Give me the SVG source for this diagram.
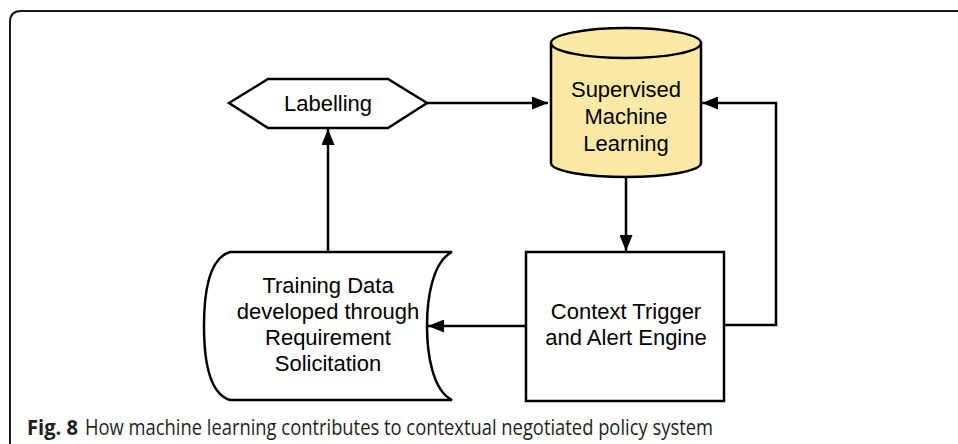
<svg xmlns="http://www.w3.org/2000/svg" width="958" height="444" viewBox="0 0 958 444">
<style>
.shape{fill:#fff;stroke:#000;stroke-width:2.5}
.lbl{font-family:"Liberation Sans",Arial,sans-serif;font-size:22px;fill:#000;text-anchor:middle}
.conn{fill:none;stroke:#000;stroke-width:2.5}
.cap{font-family:"Open Sans","Liberation Sans",sans-serif;font-size:21px;fill:#231f20}
</style>
<defs>
<marker id="arr" viewBox="0 0 16 13" refX="16" refY="6.5" markerWidth="16" markerHeight="13" markerUnits="userSpaceOnUse" orient="auto">
<path d="M0,0 L16,6.5 L0,13 Z" fill="#000"/>
</marker>
</defs>
<rect width="958" height="444" fill="#fff"/>
<path d="M10,444 L10,22 Q10,11 21,11 L958,11" fill="none" stroke="#1a1a1a" stroke-width="2"/>

<g id="labelling">
<path class="shape" d="M229,103 L268,79 L388,79 L427,103 L388,128 L268,128 Z"/>
<text class="lbl" x="328" y="111">Labelling</text>
</g>

<g id="sml">
<path d="M551,43 L551,163 A75,14 0 0 0 701,163 L701,43" fill="#fde9a6" stroke="#000" stroke-width="2.5"/>
<ellipse cx="626" cy="43" rx="75" ry="15" fill="#fde9a6" stroke="#000" stroke-width="2.5"/>
<text class="lbl" x="626" y="97">Supervised</text>
<text class="lbl" x="626" y="124">Machine</text>
<text class="lbl" x="626" y="151">Learning</text>
</g>

<g id="context">
<rect class="shape" x="526" y="252" width="198" height="149"/>
<text class="lbl" x="626" y="319">Context Trigger</text>
<text class="lbl" x="626" y="345">and Alert Engine</text>
</g>

<g id="training">
<path class="shape" d="M230,252 L452,252 C432,262 427,300 427,326 C427,352 432,390 452,400 L230,400 C210,394 204,362 204,326 C204,290 210,258 230,252 Z"/>
<text class="lbl" x="328" y="293">Training Data</text>
<text class="lbl" x="328" y="319">developed through</text>
<text class="lbl" x="328" y="345">Requirement</text>
<text class="lbl" x="328" y="371">Solicitation</text>
</g>

<g id="connectors">
<path class="conn" d="M427,103 L548,103" marker-end="url(#arr)"/>
<path class="conn" d="M626,177 L626,251" marker-end="url(#arr)"/>
<path class="conn" d="M724,325 L776,325 L776,103 L702,103" marker-end="url(#arr)"/>
<path class="conn" d="M526,326 L428,326" marker-end="url(#arr)"/>
<path class="conn" d="M328,252 L328,129" marker-end="url(#arr)"/>
</g>

<text class="cap" x="27" y="435" font-weight="bold" textLength="51" lengthAdjust="spacingAndGlyphs">Fig. 8</text>
<text class="cap" x="85" y="435" textLength="628" lengthAdjust="spacingAndGlyphs">How machine learning contributes to contextual negotiated policy system</text>
</svg>
